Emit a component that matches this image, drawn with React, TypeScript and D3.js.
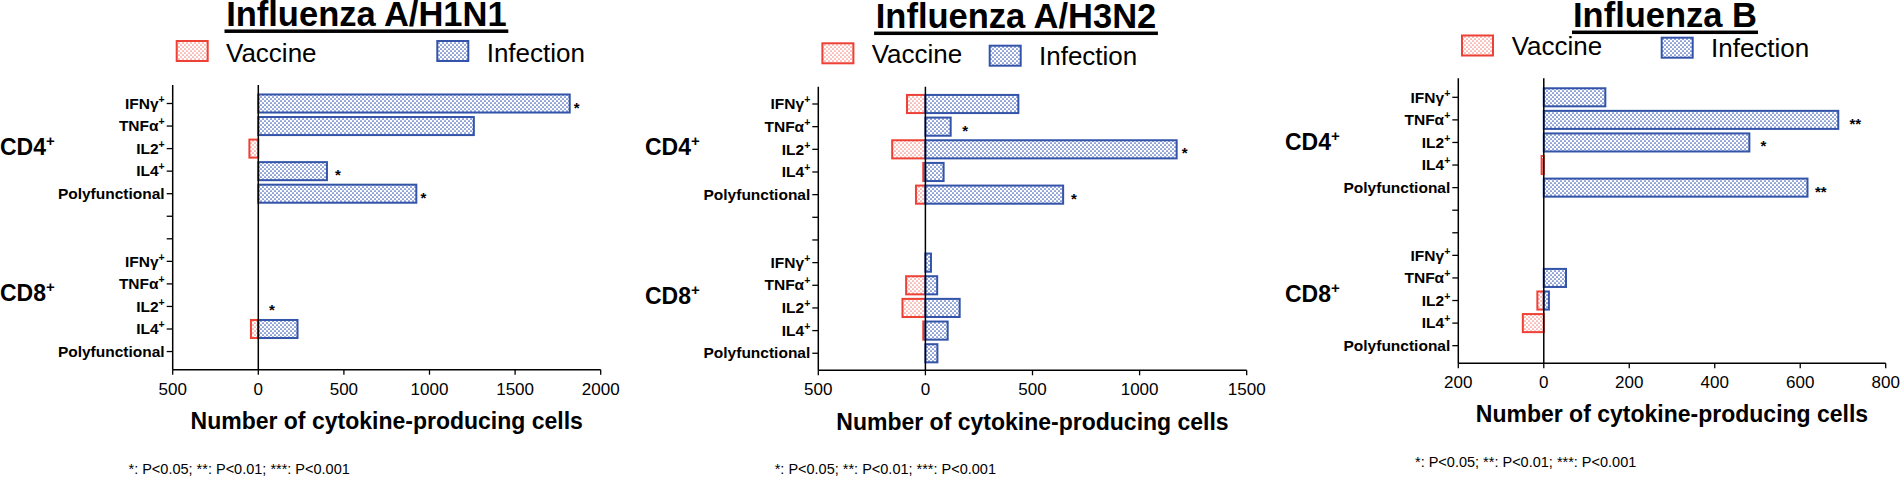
import React from 'react';
import * as d3 from 'd3';

const FONT = '"Liberation Sans", Arial, Helvetica, sans-serif';

// ---------- data ----------
const categories = ['IFNγ', 'TNFα', 'IL2', 'IL4', 'Polyfunctional'];
const superscripted = [true, true, true, true, false];
const groups = ['CD4', 'CD8'];
const seriesNames = ['Vaccine', 'Infection'];
const footnote = '*: P<0.05; **: P<0.01; ***: P<0.001';
const axisTitle = 'Number of cytokine-producing cells';

// Influenza A/H1N1
const h1n1Domain = [-500, 2000];
const h1n1Ticks = [-500, 0, 500, 1000, 1500, 2000];
const h1n1VaccineCD4 = [0, 0, -52, 0, 0];
const h1n1InfectionCD4 = [1819, 1259, 0, 401, 923];
const h1n1VaccineCD8 = [0, 0, 0, -43, 0];
const h1n1InfectionCD8 = [0, 0, 0, 229, 0];
const h1n1Stars = [
  { group: 'CD4', cat: 'IFNγ', at: 1859, text: '*' },
  { group: 'CD4', cat: 'IL4', at: 465, text: '*' },
  { group: 'CD4', cat: 'Polyfunctional', at: 964, text: '*' },
  { group: 'CD8', cat: 'IL2', at: 79, text: '*' },
];

// Influenza A/H3N2
const h3n2Domain = [-500, 1500];
const h3n2Ticks = [-500, 0, 500, 1000, 1500];
const h3n2VaccineCD4 = [-86, 0, -155, -10, -44];
const h3n2InfectionCD4 = [434, 118, 1173, 85, 643];
const h3n2VaccineCD8 = [0, -90, -107, -10, 0];
const h3n2InfectionCD8 = [26, 55, 160, 104, 56];
const h3n2Stars = [
  { group: 'CD4', cat: 'TNFα', at: 186, text: '*' },
  { group: 'CD4', cat: 'IL2', at: 1211, text: '*' },
  { group: 'CD4', cat: 'Polyfunctional', at: 693, text: '*' },
];

// Influenza B
const bDomain = [-200, 800];
const bTicks = [-200, 0, 200, 400, 600, 800];
const bVaccineCD4 = [0, 0, 0, -5, 0];
const bInfectionCD4 = [144, 689, 481, 0, 617];
const bVaccineCD8 = [0, 0, -15, -49, 0];
const bInfectionCD8 = [0, 52, 12, 0, 0];
const bStars = [
  { group: 'CD4', cat: 'TNFα', at: 729, text: '**' },
  { group: 'CD4', cat: 'IL2', at: 514, text: '*' },
  { group: 'CD4', cat: 'Polyfunctional', at: 648, text: '**' },
];

// ---------- layout ----------
type Layout = {
  x0: number; x1: number; top: number; bottom: number; firstRow: number; step: number;
  titleX: number; titleBase: number; ulY: number;
  vacSw: [number, number]; vacText: [number, number];
  infSw: [number, number]; infText: [number, number];
  cdX: number; cd4Base: number; cd8Base: number;
  tickBase: number; axisTitleBase: number; footX: number; footBase: number;
};

const layouts: Layout[] = [
  {
    x0: 172.7, x1: 600.7, top: 85, bottom: 369.7, firstRow: 103.5, step: 22.55,
    titleX: 366.4, titleBase: 26, ulY: 31.2,
    vacSw: [176.7, 41], vacText: [226, 61.7], infSw: [437.3, 41], infText: [486.7, 61.7],
    cdX: 0, cd4Base: 155, cd8Base: 301,
    tickBase: 394.5, axisTitleBase: 429, footX: 128.5, footBase: 473.5,
  },
  {
    x0: 818.3, x1: 1246.7, top: 86.7, bottom: 370.3, firstRow: 104, step: 22.66,
    titleX: 1016, titleBase: 28, ulY: 33.3,
    vacSw: [822.4, 43.3], vacText: [871.7, 62.7], infSw: [989.7, 45.7], infText: [1039, 65],
    cdX: 645, cd4Base: 155, cd8Base: 304,
    tickBase: 395, axisTitleBase: 430, footX: 774.7, footBase: 473.5,
  },
  {
    x0: 1458.3, x1: 1885.7, top: 78.3, bottom: 363.3, firstRow: 97.3, step: 22.58,
    titleX: 1665, titleBase: 27, ulY: 32.3,
    vacSw: [1462, 35.5], vacText: [1511.7, 55], infSw: [1661.7, 37.7], infText: [1711, 57.3],
    cdX: 1285, cd4Base: 150, cd8Base: 302,
    tickBase: 387.5, axisTitleBase: 421.5, footX: 1415, footBase: 467,
  },
];

const panels = [
  { title: 'Influenza A/H1N1', domain: h1n1Domain, ticks: h1n1Ticks,
    vac: { CD4: h1n1VaccineCD4, CD8: h1n1VaccineCD8 }, inf: { CD4: h1n1InfectionCD4, CD8: h1n1InfectionCD8 },
    stars: h1n1Stars },
  { title: 'Influenza A/H3N2', domain: h3n2Domain, ticks: h3n2Ticks,
    vac: { CD4: h3n2VaccineCD4, CD8: h3n2VaccineCD8 }, inf: { CD4: h3n2InfectionCD4, CD8: h3n2InfectionCD8 },
    stars: h3n2Stars },
  { title: 'Influenza B', domain: bDomain, ticks: bTicks,
    vac: { CD4: bVaccineCD4, CD8: bVaccineCD8 }, inf: { CD4: bInfectionCD4, CD8: bInfectionCD8 },
    stars: bStars },
];

const BLUE = '#3354a8';
const RED = '#ee4136';
const SW_W = 31;
const SW_H = 20;
const TITLE_SIZE = 34.5;

function measure(text: string, font: string): number {
  const c = document.createElement('canvas').getContext('2d');
  if (!c) return text.length * 10;
  c.font = font;
  return c.measureText(text).width;
}

const rowKeys = [
  ...categories.map((c) => `CD4|${c}`),
  'gap|1', 'gap|2',
  ...categories.map((c) => `CD8|${c}`),
];

function Panel({ p, L }: { p: typeof panels[number]; L: Layout }) {
  const x = d3.scaleLinear().domain(p.domain).range([L.x0, L.x1]);
  const y = d3.scalePoint<string>().domain(rowKeys).range([L.firstRow, L.firstRow + L.step * (rowKeys.length - 1)]);
  const barH = L.step * 0.8;
  const titleW = measure(p.title, `bold ${TITLE_SIZE}px ${FONT}`);

  const bars: React.ReactNode[] = [];
  groups.forEach((g) => {
    categories.forEach((c, i) => {
      const yc = y(`${g}|${c}`) as number;
      const vv = (p.vac as any)[g][i] as number;
      const iv = (p.inf as any)[g][i] as number;
      if (vv !== 0) {
        const xa = x(Math.min(0, vv));
        const xb = x(Math.max(0, vv));
        bars.push(<rect key={`v-${g}-${c}`} x={xa} y={yc - barH / 2} width={xb - xa} height={barH}
          fill="url(#dotsRed)" stroke={RED} strokeWidth={2} />);
      }
      if (iv !== 0) {
        const xa = x(Math.min(0, iv));
        const xb = x(Math.max(0, iv));
        bars.push(<rect key={`i-${g}-${c}`} x={xa} y={yc - barH / 2} width={xb - xa} height={barH}
          fill="url(#dotsBlue)" stroke={BLUE} strokeWidth={2} />);
      }
    });
  });

  return (
    <g fontFamily={FONT}>
      {/* title */}
      <text x={L.titleX} y={L.titleBase} textAnchor="middle" fontWeight="bold" fontSize={TITLE_SIZE} fill="#000">{p.title}</text>
      <rect x={L.titleX - titleW / 2 - 1} y={L.ulY - 1.75} width={titleW + 2} height={3.5} fill="#000" />
      {/* legend */}
      <rect x={L.vacSw[0]} y={L.vacSw[1]} width={SW_W} height={SW_H} fill="url(#dotsRed)" stroke={RED} strokeWidth={2} />
      <text x={L.vacText[0]} y={L.vacText[1]} fontSize={26} fill="#000">{seriesNames[0]}</text>
      <rect x={L.infSw[0]} y={L.infSw[1]} width={SW_W} height={SW_H} fill="url(#dotsBlue)" stroke={BLUE} strokeWidth={2} />
      <text x={L.infText[0]} y={L.infText[1]} fontSize={26} fill="#000">{seriesNames[1]}</text>

      {/* group labels */}
      <text x={L.cdX} y={L.cd4Base} fontWeight="bold" fontSize={23} fill="#000">
        {groups[0]}<tspan dy={-9.5} fontSize={15}>+</tspan>
      </text>
      <text x={L.cdX} y={L.cd8Base} fontWeight="bold" fontSize={23} fill="#000">
        {groups[1]}<tspan dy={-9.5} fontSize={15}>+</tspan>
      </text>

      {/* bars */}
      {bars}

      {/* stars */}
      {p.stars.map((s, i) => (
        <text key={`s${i}`} x={x(s.at)} y={(y(`${s.group}|${s.cat}`) as number) + 9} textAnchor="middle"
          fontSize={15} fontWeight="bold" fill="#000">{s.text}</text>
      ))}

      {/* y axis */}
      <line x1={L.x0} x2={L.x0} y1={L.top} y2={L.bottom} stroke="#000" strokeWidth={1.5} />
      {rowKeys.map((k) => {
        const yc = y(k) as number;
        const [g, c] = k.split('|');
        const ci = categories.indexOf(c);
        return (
          <g key={k}>
            <line x1={L.x0 - 6} x2={L.x0} y1={yc} y2={yc} stroke="#000" strokeWidth={1.3} />
            {g !== 'gap' && (
              <text x={L.x0 - 8} y={yc + 5.2} textAnchor="end" fontWeight="bold" fontSize={15.5} fill="#000">
                {c}{superscripted[ci] && <tspan dy={-6} fontSize={10.5}>+</tspan>}
              </text>
            )}
          </g>
        );
      })}

      {/* zero line */}
      <line x1={x(0)} x2={x(0)} y1={L.top} y2={L.bottom} stroke="#000" strokeWidth={1.5} />

      {/* x axis */}
      <line x1={L.x0} x2={L.x1} y1={L.bottom} y2={L.bottom} stroke="#000" strokeWidth={1.5} />
      {p.ticks.map((t) => (
        <g key={t}>
          <line x1={x(t)} x2={x(t)} y1={L.bottom} y2={L.bottom + 5} stroke="#000" strokeWidth={1.3} />
          <text x={x(t)} y={L.tickBase} textAnchor="middle" fontSize={17} fill="#000">{Math.abs(t)}</text>
        </g>
      ))}
      <text x={(L.x0 + L.x1) / 2} y={L.axisTitleBase} textAnchor="middle" fontWeight="bold" fontSize={23} fill="#000">{axisTitle}</text>

      {/* footnote */}
      <text x={L.footX} y={L.footBase} fontSize={14.5} fill="#000">{footnote}</text>
    </g>
  );
}

export default function App() {
  return (
    <svg width={1900} height={477} style={{ position: 'absolute', left: 0, top: 0, background: '#fff' }}
      xmlns="http://www.w3.org/2000/svg">
      <defs>
        <pattern id="dotsBlue" width={4} height={4} patternUnits="userSpaceOnUse">
          <rect width={4} height={4} fill="#fff" />
          <circle cx={1} cy={1} r={0.85} fill="#3a5cb6" />
          <circle cx={3} cy={3} r={0.85} fill="#3a5cb6" />
        </pattern>
        <pattern id="dotsRed" width={4} height={4} patternUnits="userSpaceOnUse">
          <rect width={4} height={4} fill="#fff" />
          <circle cx={1} cy={1} r={0.85} fill="#f38a82" />
          <circle cx={3} cy={3} r={0.85} fill="#f38a82" />
        </pattern>
      </defs>
      <rect width={1900} height={477} fill="#fff" />
      {panels.map((p, i) => (
        <Panel key={p.title} p={p} L={layouts[i]} />
      ))}
    </svg>
  );
}
